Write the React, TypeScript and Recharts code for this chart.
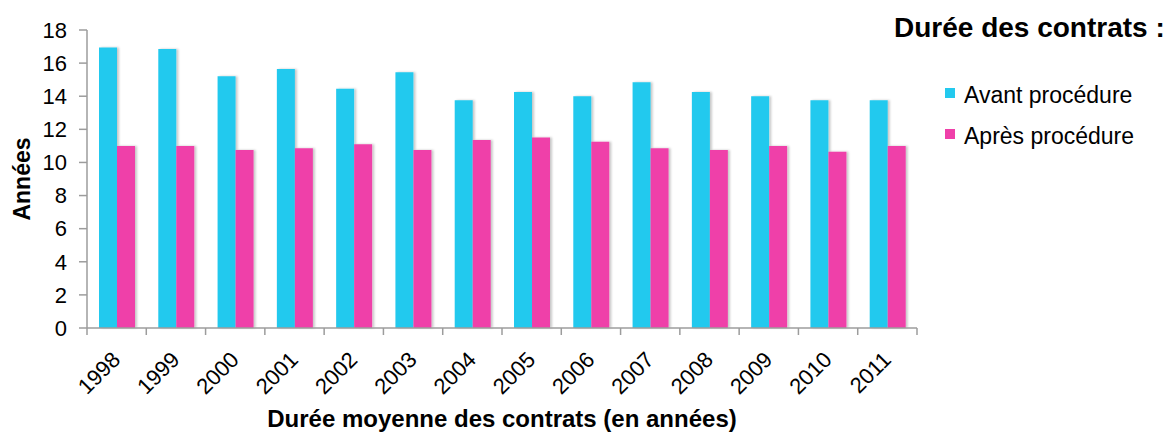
import React from 'react';
import { BarChart, Bar, XAxis, YAxis, Legend } from 'recharts';

// Durée moyenne des contrats
const years = ['1998', '1999', '2000', '2001', '2002', '2003', '2004', '2005', '2006', '2007', '2008', '2009', '2010', '2011'];
const avant = [16.95, 16.85, 15.2, 15.65, 14.45, 15.45, 13.75, 14.25, 14.0, 14.85, 14.25, 14.0, 13.75, 13.75];
const apres = [11.0, 11.0, 10.75, 10.85, 11.1, 10.75, 11.35, 11.5, 11.25, 10.85, 10.75, 11.0, 10.65, 11.0];
const yTicks = [0, 2, 4, 6, 8, 10, 12, 14, 16, 18];

const seriesNames = ['Avant procédure', 'Après procédure'];
const CYAN = '#23C9EE';
const PINK = '#EF40A9';
const AXIS = '#9c9c9c';
const FONT = '"Liberation Sans", Arial, sans-serif';

const W = 1173;
const H = 432;
const MARGIN = { top: 30, right: 256, bottom: 0, left: 27 };
const Y_W = 60;
const X_H = 104;
const PLOT_W = W - MARGIN.left - Y_W - MARGIN.right;
const BAND = PLOT_W / years.length;

const data = years.map((y, i) => ({ year: y, avant: avant[i], apres: apres[i] }));

const XTick = (props: any) => {
  const { x, y, payload, index } = props;
  const left = x - BAND / 2;
  const right = x + BAND / 2;
  return (
    <g>
      <line x1={left} y1={y} x2={left} y2={y + 7} stroke={AXIS} strokeWidth={1.5} />
      {index === years.length - 1 && (
        <line x1={right} y1={y} x2={right} y2={y + 7} stroke={AXIS} strokeWidth={1.5} />
      )}
      <text
        x={x + 5}
        y={y + 33}
        transform={`rotate(-45, ${x + 5}, ${y + 33})`}
        textAnchor="end"
        fontSize={22}
        fontFamily={FONT}
        fill="#000"
      >
        {payload.value}
      </text>
    </g>
  );
};

const LegendBox = () => (
  <div style={{ position: 'relative', width: 293, height: 160, fontFamily: FONT, color: '#000' }}>
    <div style={{ position: 'absolute', left: 14, top: 14, fontSize: 28, lineHeight: '28px', fontWeight: 'bold', whiteSpace: 'nowrap' }}>
      Durée des contrats :
    </div>
    {seriesNames.map((name, i) => (
      <div key={name}>
        <div style={{ position: 'absolute', left: 65, top: 88 + i * 41, width: 10, height: 10, background: i === 0 ? CYAN : PINK }} />
        <div style={{ position: 'absolute', left: 84, top: 84 + i * 41, fontSize: 23, lineHeight: '23px', whiteSpace: 'nowrap' }}>
          {name}
        </div>
      </div>
    ))}
  </div>
);

const App = () => {
  return (
    <div style={{ width: W, height: H, background: '#fff' }}>
      <style>{'body{margin:0}'}</style>
      <BarChart width={W} height={H} data={data} margin={MARGIN} barGap={0}>
        <defs>
          <filter id="barShadow" x="-20%" y="-5%" width="150%" height="110%">
            <feDropShadow dx="2" dy="0" stdDeviation="1.2" floodColor="#000" floodOpacity="0.22" />
          </filter>
        </defs>
        <XAxis
          dataKey="year"
          height={X_H}
          tickLine={false}
          tickSize={0}
          tickMargin={0}
          interval={0}
          stroke={AXIS}
          strokeWidth={1.5}
          tick={<XTick />}
          label={{
            content: () => (
              <text x={MARGIN.left + Y_W + PLOT_W / 2} y={427} textAnchor="middle" fontSize={24} fontWeight="bold" fontFamily={FONT} fill="#000">
                Durée moyenne des contrats (en années)
              </text>
            ),
          }}
        />
        <YAxis
          width={Y_W}
          domain={[0, 18]}
          ticks={yTicks}
          interval={0}
          stroke={AXIS}
          strokeWidth={1.5}
          tickSize={8}
          tickMargin={12}
          tick={{ fill: '#000', fontSize: 22, fontFamily: FONT }}
          label={{
            content: () => (
              <text x={30} y={179} transform="rotate(-90, 30, 179)" textAnchor="middle" fontSize={23} fontWeight="bold" fontFamily={FONT} fill="#000">
                Années
              </text>
            ),
          }}
        />
        <Legend
          layout="vertical"
          align="center"
          verticalAlign="middle"
          wrapperStyle={{ left: 880, top: 0, width: 293, height: 160 }}
          content={() => <LegendBox />}
        />
        <Bar dataKey="avant" name={seriesNames[0]} fill={CYAN} barSize={18} isAnimationActive={false} style={{ filter: 'url(#barShadow)' }} />
        <Bar dataKey="apres" name={seriesNames[1]} fill={PINK} barSize={18} isAnimationActive={false} style={{ filter: 'url(#barShadow)' }} />
      </BarChart>
    </div>
  );
};

export default App;
